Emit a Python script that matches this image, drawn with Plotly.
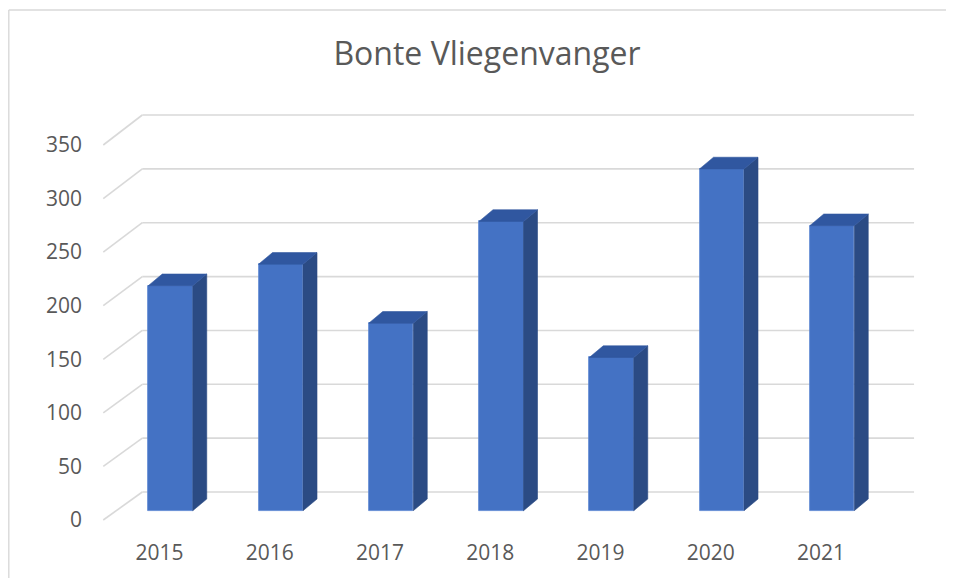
import plotly.graph_objects as go

# ---- data ----
years = ["2015", "2016", "2017", "2018", "2019", "2020", "2021"]
counts = [210, 230, 175, 270, 143, 319, 266]
y_ticks = [0, 50, 100, 150, 200, 250, 300, 350]
title_text = "Bonte Vliegenvanger"

# ---- style / geometry ----
FRONT = "#4472C4"
TOP = "#3057a0"
SIDE = "#2b4b84"
GRID = "#d9d9d9"
TXT = "#595959"
FONT = "Open Sans"

W, H = 946, 570          # page body has an 8px margin
ML, MR, MT, MB = 92, 30, 92, 40
XR = [-0.5397, 6.9342]
YR = [-16.8, 392.0]

wall_dx = 0.354          # depth of floor/back wall (category units)
def back_y(v):           # back-wall height for value v, in front-plane units
    return 26.13 + 1.00533 * v
x_front_left = -0.51
x_front_right = 6.49

bar_off_x = 0.0998       # bar front face offset from category centre
bar_base = 8.68          # bar front face sits slightly into the depth
bar_w = 0.4036
bar_dx = 0.127
bar_dy = 10.9

xs = list(range(len(years)))

fig = go.Figure()

sx, sy = [], []
tx, ty = [], []
for i, v in zip(xs, counts):
    xc = i + bar_off_x
    xl, xr = xc - bar_w / 2, xc + bar_w / 2
    b = bar_base
    sx += [xr, xr + bar_dx, xr + bar_dx, xr, xr, None]
    sy += [b, b + bar_dy, b + v + bar_dy, b + v, b, None]
    tx += [xl, xr, xr + bar_dx, xl + bar_dx, xl, None]
    ty += [b + v, b + v, b + v + bar_dy, b + v + bar_dy, b + v, None]

fig.add_trace(go.Bar(
    x=[i + bar_off_x for i in xs], y=counts, base=bar_base, width=bar_w,
    marker=dict(color=FRONT, line=dict(color="#5b86d2", width=0.8)),
    hoverinfo="skip", showlegend=False))
fig.add_trace(go.Scatter(x=sx, y=sy, fill="toself", fillcolor=SIDE, mode="lines",
                         line=dict(color=SIDE, width=0.6), hoverinfo="skip", showlegend=False))
fig.add_trace(go.Scatter(x=tx, y=ty, fill="toself", fillcolor=TOP, mode="lines",
                         line=dict(color=TOP, width=0.6), hoverinfo="skip", showlegend=False))

shapes = []
for g in y_ticks:
    yb = back_y(g)
    shapes.append(dict(type="line", xref="x", yref="y", layer="below",
                       x0=x_front_left, y0=g, x1=x_front_left + wall_dx, y1=yb,
                       line=dict(color=GRID, width=1.6)))
    shapes.append(dict(type="line", xref="x", yref="y", layer="below",
                       x0=x_front_left + wall_dx, y0=yb, x1=x_front_right + wall_dx, y1=yb,
                       line=dict(color=GRID, width=1.6)))

# chart frame (left and top edges)
pw, ph = W - ML - MR, H - MT - MB
fx = (0.8 - ML) / pw
fy = (H - MB - 2) / ph
shapes.append(dict(type="line", xref="paper", yref="paper", x0=fx, x1=fx, y0=-0.3, y1=fy,
                   line=dict(color=GRID, width=1.4)))
shapes.append(dict(type="line", xref="paper", yref="paper", x0=fx, x1=1.2, y0=fy, y1=fy,
                   line=dict(color=GRID, width=1.4)))

fig.update_layout(
    width=W, height=H,
    margin=dict(l=ML, r=MR, t=MT, b=MB),
    paper_bgcolor="white", plot_bgcolor="white",
    shapes=shapes,
    title=dict(text=title_text, x=479 / W, xanchor="center", xref="container",
               y=1 - 46 / H, yanchor="middle", yref="container",
               font=dict(family=FONT, size=32, color=TXT)),
    xaxis=dict(range=XR, tickvals=xs, ticktext=years, showgrid=False, zeroline=False,
               showline=False, ticks="", tickfont=dict(family=FONT, size=21, color=TXT),
               fixedrange=True),
    yaxis=dict(range=YR, tickvals=y_ticks, showgrid=False, zeroline=False,
               showline=False, ticks="", ticklabelstandoff=17,
               tickfont=dict(family=FONT, size=21, color=TXT), fixedrange=True),
    bargap=0,
)

fig.write_html("out.html")
